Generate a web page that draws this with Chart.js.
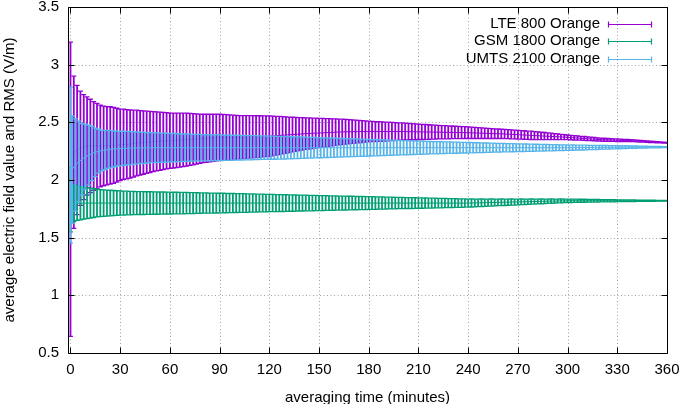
<!DOCTYPE html>
<html>
<head>
<meta charset="utf-8">
<script src="https://cdn.jsdelivr.net/npm/chart.js@4.4.1/dist/chart.umd.min.js"></script>
<style>
  html, body { margin: 0; padding: 0; background: #fff; }
  #wrap { width: 680px; height: 404px; position: relative; }
</style>
</head>
<body>
<div id="wrap"><canvas id="chart"></canvas></div>
<script>
// sample times (minutes); UMTS samples sit between the LTE/GSM ones
const minutes = [
  0, 2, 4, 6, 8, 10, 12, 14, 16, 18, 20, 22, 24, 26, 28, 30, 32, 34, 36, 38,
  40, 42, 44, 46, 48, 50, 52, 54, 56, 58, 60, 62, 64, 66, 68, 70, 72, 74, 76, 78,
  80, 82, 84, 86, 88, 90, 92, 94, 96, 98, 100, 102, 104, 106, 108, 110, 112, 114, 116, 118,
  120, 122, 124, 126, 128, 130, 132, 134, 136, 138, 140, 142, 144, 146, 148, 150, 152, 154, 156, 158,
  160, 162, 164, 166, 168, 170, 172, 174, 176, 178, 180, 182, 184, 186, 188, 190, 192, 194, 196, 198,
  200, 202, 204, 206, 208, 210, 212, 214, 216, 218, 220, 222, 224, 226, 228, 230, 232, 234, 236, 238,
  240, 242, 244, 246, 248, 250, 252, 254, 256, 258, 260, 262, 264, 266, 268, 270, 272, 274, 276, 278,
  280, 282, 284, 286, 288, 290, 292, 294, 296, 298, 300, 302, 304, 306, 308, 310, 312, 314, 316, 318,
  320, 322, 324, 326, 328, 330, 332, 334, 336, 338, 340, 342, 344, 346, 348, 350, 352, 354, 356, 358,
  360
];
const umtsMinutes = [
  0, 1, 3, 5, 7, 9, 11, 13, 15, 17, 19, 21, 23, 25, 27, 29, 31, 33, 35, 37,
  39, 41, 43, 45, 47, 49, 51, 53, 55, 57, 59, 61, 63, 65, 67, 69, 71, 73, 75, 77,
  79, 81, 83, 85, 87, 89, 91, 93, 95, 97, 99, 101, 103, 105, 107, 109, 111, 113, 115, 117,
  119, 121, 123, 125, 127, 129, 131, 133, 135, 137, 139, 141, 143, 145, 147, 149, 151, 153, 155, 157,
  159, 161, 163, 165, 167, 169, 171, 173, 175, 177, 179, 181, 183, 185, 187, 189, 191, 193, 195, 197,
  199, 201, 203, 205, 207, 209, 211, 213, 215, 217, 219, 221, 223, 225, 227, 229, 231, 233, 235, 237,
  239, 241, 243, 245, 247, 249, 251, 253, 255, 257, 259, 261, 263, 265, 267, 269, 271, 273, 275, 277,
  279, 281, 283, 285, 287, 289, 291, 293, 295, 297, 299, 301, 303, 305, 307, 309, 311, 313, 315, 317,
  319, 321, 323, 325, 327, 329, 331, 333, 335, 337, 339, 341, 343, 345, 347, 349, 351, 353, 355, 357,
  359
];

const xTicks = [0, 30, 60, 90, 120, 150, 180, 210, 240, 270, 300, 330, 360];
const yTicks = [0.5, 1, 1.5, 2, 2.5, 3, 3.5];

// LTE 800 Orange
const lteMean = [
  1.92, 2.24, 2.26, 2.275, 2.285, 2.295, 2.295, 2.295, 2.295, 2.295,
  2.295, 2.297, 2.3, 2.3, 2.302, 2.305, 2.31, 2.31, 2.312, 2.315,
  2.32, 2.322, 2.325, 2.327, 2.33, 2.333, 2.335, 2.336, 2.338, 2.34,
  2.34, 2.342, 2.344, 2.346, 2.348, 2.35, 2.352, 2.354, 2.356, 2.358,
  2.36, 2.362, 2.364, 2.366, 2.368, 2.37, 2.37, 2.37, 2.37, 2.37,
  2.37, 2.371, 2.372, 2.373, 2.374, 2.375, 2.376, 2.377, 2.378, 2.379,
  2.38, 2.382, 2.384, 2.386, 2.388, 2.39, 2.392, 2.394, 2.396, 2.398,
  2.4, 2.402, 2.403, 2.405, 2.406, 2.408, 2.409, 2.41, 2.412, 2.413,
  2.415, 2.416, 2.417, 2.418, 2.418, 2.419, 2.419, 2.42, 2.42, 2.42,
  2.42, 2.42, 2.42, 2.42, 2.42, 2.42, 2.42, 2.42, 2.42, 2.42,
  2.42, 2.42, 2.419, 2.419, 2.418, 2.418, 2.417, 2.417, 2.416, 2.416,
  2.415, 2.415, 2.414, 2.414, 2.413, 2.413, 2.412, 2.412, 2.411, 2.411,
  2.41, 2.409, 2.408, 2.407, 2.406, 2.405, 2.404, 2.403, 2.402, 2.401,
  2.4, 2.399, 2.397, 2.396, 2.394, 2.393, 2.391, 2.39, 2.388, 2.387,
  2.385, 2.384, 2.382, 2.381, 2.379, 2.378, 2.376, 2.375, 2.373, 2.372,
  2.37, 2.368, 2.366, 2.364, 2.362, 2.36, 2.358, 2.356, 2.354, 2.352,
  2.35, 2.349, 2.348, 2.347, 2.346, 2.345, 2.344, 2.343, 2.342, 2.341,
  2.34, 2.338, 2.336, 2.335, 2.333, 2.331, 2.329, 2.327, 2.326, 2.324,
  2.322
];
const lteErr = [
  1.275, 0.66, 0.56, 0.495, 0.455, 0.425, 0.405, 0.385, 0.37, 0.355,
  0.345, 0.34, 0.335, 0.33, 0.32, 0.31, 0.305, 0.3, 0.295, 0.29,
  0.285, 0.28, 0.275, 0.27, 0.265, 0.26, 0.256, 0.252, 0.248, 0.244,
  0.24, 0.238, 0.236, 0.234, 0.232, 0.23, 0.226, 0.222, 0.218, 0.214,
  0.21, 0.208, 0.206, 0.204, 0.202, 0.2, 0.198, 0.196, 0.194, 0.192,
  0.19, 0.188, 0.187, 0.185, 0.184, 0.183, 0.181, 0.18, 0.178, 0.177,
  0.175, 0.172, 0.168, 0.165, 0.161, 0.158, 0.154, 0.15, 0.147, 0.143,
  0.14, 0.137, 0.135, 0.132, 0.13, 0.127, 0.125, 0.122, 0.12, 0.117,
  0.115, 0.112, 0.11, 0.107, 0.105, 0.102, 0.1, 0.097, 0.095, 0.092,
  0.09, 0.088, 0.087, 0.085, 0.084, 0.082, 0.081, 0.079, 0.078, 0.076,
  0.075, 0.073, 0.072, 0.07, 0.069, 0.067, 0.066, 0.064, 0.063, 0.061,
  0.06, 0.059, 0.058, 0.057, 0.056, 0.055, 0.054, 0.053, 0.052, 0.051,
  0.05, 0.049, 0.048, 0.047, 0.046, 0.045, 0.044, 0.043, 0.042, 0.041,
  0.04, 0.04, 0.039, 0.039, 0.038, 0.038, 0.037, 0.037, 0.036, 0.036,
  0.035, 0.034, 0.032, 0.031, 0.029, 0.028, 0.026, 0.025, 0.023, 0.022,
  0.02, 0.019, 0.019, 0.018, 0.017, 0.017, 0.016, 0.015, 0.015, 0.014,
  0.013, 0.013, 0.012, 0.012, 0.011, 0.011, 0.01, 0.01, 0.009, 0.009,
  0.008, 0.008, 0.007, 0.007, 0.006, 0.006, 0.005, 0.005, 0.004, 0.004,
  0.003
];

// GSM 1800 Orange
const gsmMean = [
  1.83, 1.8, 1.8, 1.8, 1.8, 1.8, 1.8, 1.8, 1.8, 1.8,
  1.8, 1.8, 1.8, 1.8, 1.8, 1.8, 1.8, 1.8, 1.8, 1.8,
  1.8, 1.8, 1.8, 1.8, 1.8, 1.8, 1.8, 1.8, 1.8, 1.8,
  1.8, 1.8, 1.8, 1.8, 1.8, 1.8, 1.8, 1.8, 1.8, 1.8,
  1.8, 1.8, 1.8, 1.8, 1.8, 1.8, 1.8, 1.8, 1.8, 1.8,
  1.8, 1.8, 1.8, 1.8, 1.8, 1.8, 1.8, 1.8, 1.8, 1.8,
  1.8, 1.8, 1.8, 1.8, 1.8, 1.8, 1.8, 1.8, 1.8, 1.8,
  1.8, 1.8, 1.8, 1.8, 1.8, 1.8, 1.8, 1.8, 1.8, 1.8,
  1.8, 1.8, 1.8, 1.8, 1.8, 1.8, 1.8, 1.8, 1.8, 1.8,
  1.8, 1.8, 1.8, 1.8, 1.8, 1.8, 1.8, 1.8, 1.8, 1.8,
  1.8, 1.8, 1.8, 1.8, 1.8, 1.8, 1.8, 1.8, 1.8, 1.8,
  1.8, 1.8, 1.8, 1.8, 1.8, 1.8, 1.8, 1.8, 1.8, 1.8,
  1.8, 1.801, 1.801, 1.802, 1.803, 1.803, 1.804, 1.805, 1.805, 1.806,
  1.807, 1.807, 1.808, 1.809, 1.809, 1.81, 1.811, 1.811, 1.812, 1.813,
  1.813, 1.814, 1.815, 1.815, 1.816, 1.817, 1.817, 1.818, 1.819, 1.819,
  1.82, 1.82, 1.82, 1.82, 1.82, 1.82, 1.82, 1.82, 1.82, 1.82,
  1.82, 1.82, 1.82, 1.82, 1.82, 1.82, 1.82, 1.82, 1.82, 1.82,
  1.82, 1.82, 1.82, 1.82, 1.82, 1.82, 1.82, 1.82, 1.82, 1.82,
  1.82
];
const gsmErr = [
  0.28, 0.16, 0.15, 0.145, 0.14, 0.135, 0.13, 0.125, 0.12, 0.117,
  0.115, 0.113, 0.111, 0.109, 0.107, 0.105, 0.104, 0.103, 0.102, 0.101,
  0.1, 0.099, 0.099, 0.098, 0.098, 0.097, 0.097, 0.096, 0.096, 0.095,
  0.095, 0.094, 0.094, 0.093, 0.093, 0.092, 0.091, 0.091, 0.09, 0.089,
  0.088, 0.088, 0.087, 0.087, 0.086, 0.085, 0.085, 0.084, 0.083, 0.083,
  0.082, 0.081, 0.081, 0.08, 0.079, 0.079, 0.078, 0.077, 0.077, 0.076,
  0.075, 0.075, 0.074, 0.073, 0.073, 0.072, 0.071, 0.071, 0.07, 0.069,
  0.069, 0.068, 0.067, 0.067, 0.066, 0.065, 0.065, 0.064, 0.063, 0.063,
  0.062, 0.061, 0.061, 0.06, 0.059, 0.059, 0.058, 0.057, 0.057, 0.056,
  0.055, 0.055, 0.054, 0.053, 0.053, 0.052, 0.051, 0.051, 0.05, 0.049,
  0.049, 0.048, 0.047, 0.047, 0.046, 0.045, 0.045, 0.044, 0.043, 0.043,
  0.042, 0.041, 0.041, 0.04, 0.039, 0.039, 0.038, 0.037, 0.037, 0.036,
  0.035, 0.035, 0.034, 0.033, 0.033, 0.032, 0.031, 0.031, 0.03, 0.029,
  0.029, 0.028, 0.027, 0.027, 0.026, 0.025, 0.025, 0.024, 0.023, 0.023,
  0.022, 0.021, 0.021, 0.02, 0.019, 0.019, 0.018, 0.017, 0.017, 0.016,
  0.015, 0.015, 0.014, 0.014, 0.013, 0.013, 0.012, 0.012, 0.011, 0.011,
  0.01, 0.01, 0.009, 0.009, 0.009, 0.008, 0.008, 0.008, 0.007, 0.007,
  0.007, 0.006, 0.006, 0.006, 0.005, 0.005, 0.005, 0.004, 0.004, 0.004,
  0.003
];

// UMTS 2100 Orange (at umtsMinutes)
const umtsMean = [
  2.13, 2.09, 2.13, 2.16, 2.18, 2.2, 2.215, 2.23, 2.24, 2.25,
  2.255, 2.26, 2.265, 2.268, 2.27, 2.272, 2.274, 2.275, 2.276, 2.277,
  2.278, 2.278, 2.279, 2.279, 2.28, 2.28, 2.28, 2.28, 2.28, 2.28,
  2.28, 2.28, 2.28, 2.28, 2.28, 2.28, 2.28, 2.28, 2.28, 2.28,
  2.28, 2.28, 2.28, 2.28, 2.28, 2.28, 2.28, 2.28, 2.28, 2.28,
  2.28, 2.28, 2.28, 2.28, 2.28, 2.28, 2.28, 2.28, 2.28, 2.28,
  2.28, 2.28, 2.28, 2.28, 2.28, 2.28, 2.28, 2.28, 2.28, 2.28,
  2.28, 2.28, 2.28, 2.28, 2.28, 2.28, 2.28, 2.28, 2.28, 2.28,
  2.28, 2.28, 2.28, 2.28, 2.28, 2.28, 2.28, 2.28, 2.28, 2.28,
  2.28, 2.28, 2.28, 2.28, 2.28, 2.28, 2.28, 2.28, 2.28, 2.28,
  2.28, 2.28, 2.28, 2.28, 2.28, 2.28, 2.28, 2.28, 2.28, 2.28,
  2.28, 2.28, 2.28, 2.28, 2.28, 2.28, 2.28, 2.28, 2.28, 2.28,
  2.28, 2.28, 2.28, 2.28, 2.28, 2.28, 2.28, 2.28, 2.28, 2.28,
  2.28, 2.28, 2.28, 2.28, 2.28, 2.28, 2.28, 2.28, 2.28, 2.28,
  2.28, 2.28, 2.28, 2.28, 2.28, 2.28, 2.28, 2.28, 2.28, 2.28,
  2.28, 2.28, 2.281, 2.281, 2.281, 2.281, 2.282, 2.282, 2.282, 2.282,
  2.283, 2.283, 2.283, 2.283, 2.284, 2.284, 2.284, 2.284, 2.285, 2.285,
  2.285, 2.285, 2.285, 2.285, 2.285, 2.285, 2.285, 2.285, 2.285, 2.285,
  2.285
];
const umtsErr = [
  0.675, 0.465, 0.4, 0.35, 0.31, 0.285, 0.26, 0.235, 0.21, 0.19,
  0.175, 0.17, 0.165, 0.16, 0.155, 0.15, 0.149, 0.147, 0.145, 0.143,
  0.14, 0.138, 0.136, 0.134, 0.132, 0.13, 0.129, 0.128, 0.127, 0.126,
  0.125, 0.124, 0.123, 0.121, 0.12, 0.119, 0.118, 0.117, 0.116, 0.115,
  0.115, 0.114, 0.114, 0.113, 0.112, 0.112, 0.111, 0.11, 0.11, 0.109,
  0.108, 0.107, 0.107, 0.106, 0.105, 0.105, 0.104, 0.103, 0.102, 0.102,
  0.101, 0.101, 0.1, 0.099, 0.099, 0.098, 0.097, 0.096, 0.095, 0.094,
  0.093, 0.092, 0.091, 0.09, 0.089, 0.088, 0.087, 0.086, 0.085, 0.084,
  0.083, 0.082, 0.081, 0.08, 0.079, 0.078, 0.077, 0.076, 0.075, 0.074,
  0.073, 0.072, 0.071, 0.07, 0.069, 0.068, 0.067, 0.066, 0.065, 0.064,
  0.063, 0.062, 0.061, 0.06, 0.059, 0.058, 0.057, 0.056, 0.055, 0.054,
  0.053, 0.053, 0.052, 0.051, 0.05, 0.05, 0.049, 0.048, 0.047, 0.046,
  0.046, 0.045, 0.044, 0.043, 0.042, 0.042, 0.041, 0.04, 0.039, 0.038,
  0.038, 0.037, 0.036, 0.036, 0.035, 0.034, 0.034, 0.033, 0.032, 0.031,
  0.031, 0.03, 0.029, 0.029, 0.028, 0.027, 0.027, 0.026, 0.025, 0.025,
  0.024, 0.023, 0.023, 0.022, 0.021, 0.021, 0.02, 0.019, 0.018, 0.018,
  0.017, 0.016, 0.016, 0.015, 0.014, 0.014, 0.013, 0.012, 0.012, 0.011,
  0.01, 0.01, 0.009, 0.009, 0.008, 0.007, 0.007, 0.006, 0.006, 0.005,
  0.005
];

const FONT = '"Liberation Sans", Arial, Helvetica, sans-serif';

// drawn bottom-up: higher order goes first
const SERIES = [
  { label: 'LTE 800 Orange',   t: minutes,     mean: lteMean,  err: lteErr,  color: '#9400d3', order: 3 },
  { label: 'GSM 1800 Orange',  t: minutes,     mean: gsmMean,  err: gsmErr,  color: '#009e73', order: 2 },
  { label: 'UMTS 2100 Orange', t: umtsMinutes, mean: umtsMean, err: umtsErr, color: '#56b4e9', order: 1 },
];

// gnuplot style error bars, one per sample, with small caps
const errorBars = {
  id: 'errorBars',
  afterDatasetDraw(chart, args) {
    const ds = chart.data.datasets[args.index];
    const { ctx, chartArea: a, scales: { x, y } } = chart;
    ctx.save();
    ctx.beginPath();
    ctx.rect(a.left, a.top, a.right - a.left, a.bottom - a.top);
    ctx.clip();
    ctx.strokeStyle = ds.borderColor;
    ctx.lineWidth = 1.8;
    ctx.beginPath();
    ds.data.forEach((p, i) => {
      const e = ds.errors[i];
      const px = x.getPixelForValue(p.x);
      ctx.moveTo(px, y.getPixelForValue(p.y + e));
      ctx.lineTo(px, y.getPixelForValue(p.y - e));
    });
    ctx.stroke();
    ctx.lineWidth = 1.3;
    ctx.beginPath();
    ds.data.forEach((p, i) => {
      const e = ds.errors[i];
      const px = x.getPixelForValue(p.x);
      const yt = y.getPixelForValue(p.y + e);
      const yb = y.getPixelForValue(p.y - e);
      ctx.moveTo(px - 2.5, yt); ctx.lineTo(px + 2.5, yt);
      ctx.moveTo(px - 2.5, yb); ctx.lineTo(px + 2.5, yb);
    });
    ctx.stroke();
    ctx.restore();
  }
};

// dotted grid, border with inward mirrored ticks, key in the top right
const frame = {
  id: 'frame',
  beforeDatasetsDraw(chart) {
    const { ctx, chartArea: a, scales: { x, y } } = chart;
    ctx.save();
    ctx.strokeStyle = '#a0a0a0';
    ctx.lineWidth = 1;
    ctx.setLineDash([1, 2.5]);
    ctx.beginPath();
    xTicks.forEach(v => {
      const px = Math.round(x.getPixelForValue(v)) + 0.5;
      if (px > a.right - 2) return;
      ctx.moveTo(px, a.top); ctx.lineTo(px, a.bottom);
    });
    yTicks.forEach(v => {
      const py = Math.round(y.getPixelForValue(v)) + 0.5;
      if (py < a.top + 2 || py > a.bottom - 2) return;
      ctx.moveTo(a.left, py); ctx.lineTo(a.right, py);
    });
    ctx.stroke();
    ctx.restore();
  },
  afterDatasetsDraw(chart) {
    const { ctx, chartArea: a, scales: { x, y } } = chart;
    const L = Math.round(a.left) + 0.5, R = Math.round(a.right) + 0.5;
    const T = Math.round(a.top) + 0.5, B = Math.round(a.bottom) + 0.5;
    ctx.save();
    ctx.strokeStyle = '#000';
    ctx.lineWidth = 1;
    ctx.beginPath();
    ctx.rect(L, T, R - L, B - T);
    xTicks.forEach(v => {
      const px = Math.round(x.getPixelForValue(v)) + 0.5;
      ctx.moveTo(px, B); ctx.lineTo(px, B - 6);
      ctx.moveTo(px, T); ctx.lineTo(px, T + 6);
    });
    yTicks.forEach(v => {
      const py = Math.round(y.getPixelForValue(v)) + 0.5;
      ctx.moveTo(L, py); ctx.lineTo(L + 6, py);
      ctx.moveTo(R, py); ctx.lineTo(R - 6, py);
    });
    ctx.stroke();

    // key
    const rows = [23.5, 41, 58.5];
    ctx.font = '15px ' + FONT;
    ctx.textAlign = 'right';
    ctx.textBaseline = 'middle';
    SERIES.forEach((s, i) => {
      const yy = Math.round(rows[i]) + 0.5;
      ctx.fillStyle = '#000';
      ctx.fillText(s.label, 600, rows[i]);
      ctx.strokeStyle = s.color;
      ctx.lineWidth = 1.2;
      ctx.beginPath();
      ctx.moveTo(608.5, yy); ctx.lineTo(651.5, yy);
      ctx.moveTo(608.5, yy - 3); ctx.lineTo(608.5, yy + 3);
      ctx.moveTo(651.5, yy - 3); ctx.lineTo(651.5, yy + 3);
      ctx.stroke();
    });
    ctx.restore();
  }
};

Chart.defaults.font.family = FONT;
Chart.defaults.font.size = 15;
Chart.defaults.color = '#000';

new Chart(document.getElementById('chart'), {
  type: 'line',
  data: {
    datasets: SERIES.map(s => ({
      label: s.label,
      data: s.t.map((t, i) => ({ x: t, y: s.mean[i] })),
      errors: s.err,
      borderColor: s.color,
      backgroundColor: s.color,
      borderWidth: 1,
      pointRadius: 0,
      tension: 0,
      order: s.order,
    })),
  },
  options: {
    responsive: true,
    maintainAspectRatio: false,
    animation: false,
    layout: { padding: { left: 0, top: 7, right: 13, bottom: 0 }, autoPadding: false },
    plugins: { legend: { display: false }, tooltip: { enabled: false } },
    scales: {
      x: {
        type: 'linear',
        min: -1.5,
        max: 360,
        afterBuildTicks: s => { s.ticks = xTicks.map(v => ({ value: v })); },
        afterFit: s => { s.height = 51; s.paddingLeft = 0; s.paddingRight = 0; },
        grid: { display: false, drawTicks: false },
        border: { display: false },
        ticks: { padding: 8, autoSkip: false, maxRotation: 0, callback: v => String(v) },
        title: { display: true, text: 'averaging time (minutes)', padding: 0, font: { size: 15, lineHeight: 0.8 } },
      },
      y: {
        type: 'linear',
        min: 0.5,
        max: 3.5,
        afterBuildTicks: s => { s.ticks = yTicks.map(v => ({ value: v })); },
        afterFit: s => { s.width = 68; s.paddingTop = 0; s.paddingBottom = 0; },
        grid: { display: false, drawTicks: false },
        border: { display: false },
        ticks: { padding: 9, callback: v => String(v) },
        title: { display: true, text: 'average electric field value and RMS (V/m)', padding: { top: 1, bottom: 0 }, font: { size: 15, lineHeight: 1.2 } },
      },
    },
  },
  plugins: [errorBars, frame],
});
</script>
</body>
</html>
